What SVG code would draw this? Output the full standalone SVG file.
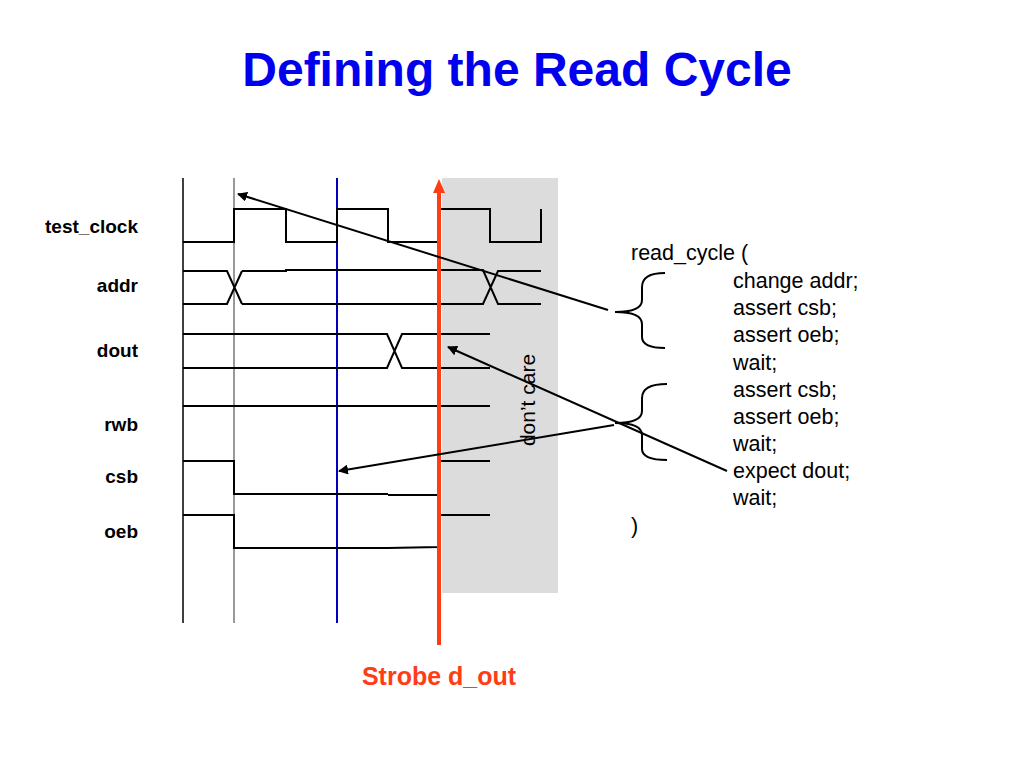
<svg xmlns="http://www.w3.org/2000/svg" width="1024" height="768" viewBox="0 0 1024 768">
<style>
text{font-family:"Liberation Sans",Arial,Helvetica,sans-serif}
.lbl{font-size:19px;font-weight:bold;fill:#000;text-anchor:end}
.code{font-size:21.5px;fill:#000}
.wave{fill:none;stroke:#000;stroke-width:2;stroke-linejoin:miter}
.conn{fill:none;stroke:#000;stroke-width:2}
.brace{fill:none;stroke:#000;stroke-width:2}
</style>
<defs>
<marker id="ah" viewBox="0 0 10 10" refX="9" refY="5" markerWidth="5" markerHeight="5" orient="auto" markerUnits="strokeWidth">
<path d="M0,0 L10,5 L0,10 Z" fill="#000"/>
</marker>
</defs>
<rect width="1024" height="768" fill="#fff"/>
<text x="517" y="86" font-size="48" font-weight="bold" fill="#0000ee" text-anchor="middle">Defining the Read Cycle</text>

<g id="dontcare">
<rect x="442" y="178" width="116" height="415" fill="#dcdcdc"/>
<text transform="translate(535,400) rotate(-90)" font-size="21" fill="#000" text-anchor="middle">don’t care</text>
</g>

<g id="gridlines">
<line x1="183" y1="178" x2="183" y2="623" stroke="#000" stroke-width="1.5"/>
<line x1="234" y1="178" x2="234" y2="623" stroke="#999" stroke-width="2"/>
<line x1="337" y1="178" x2="337" y2="623" stroke="#0000bb" stroke-width="2"/>
</g>

<g id="labels">
<text class="lbl" x="138" y="233">test_clock</text>
<text class="lbl" x="138" y="292">addr</text>
<text class="lbl" x="138" y="357">dout</text>
<text class="lbl" x="138" y="431">rwb</text>
<text class="lbl" x="138" y="483">csb</text>
<text class="lbl" x="138" y="538">oeb</text>
</g>

<g id="test_clock">
<path class="wave" d="M183,242 H234 V209 H286 V242 H337 V209 H388 V242 H439 V209 H490 V242 H541 V209"/>
</g>
<g id="addr">
<path class="wave" d="M183,271 H227 L242,304 M183,304 H227 L242,271 M242,271 H286 L286,270 H483 L498,304 H541 M242,304 H483 L498,271 H541"/>
</g>
<g id="dout">
<path class="wave" d="M183,334 H387 L402,368 H490 M183,368 H387 L402,334 H490"/>
</g>
<g id="rwb">
<path class="wave" d="M183,406 H490"/>
</g>
<g id="csb">
<path class="wave" d="M183,461 H234 V494 H388"/>
<path class="wave" stroke-width="3" d="M388,495 H439 V461 H490"/>
</g>
<g id="oeb">
<path class="wave" d="M183,515 H234 V548 H388 L439,547 V515 H490"/>
</g>

<g id="strobe">
<line x1="439" y1="190" x2="439" y2="645" stroke="#ff3c14" stroke-width="4"/>
<path d="M439,179 L445,193 L433,193 Z" fill="#ff3c14"/>
<text x="439" y="685" font-size="25" font-weight="bold" fill="#ff3c14" text-anchor="middle">Strobe d_out</text>
</g>

<g id="code">
<text class="code" x="631" y="260">read_cycle (</text>
<text class="code" x="733" y="288">change addr;</text>
<text class="code" x="733" y="315">assert csb;</text>
<text class="code" x="733" y="342">assert oeb;</text>
<text class="code" x="733" y="370">wait;</text>
<text class="code" x="733" y="397">assert csb;</text>
<text class="code" x="733" y="424">assert oeb;</text>
<text class="code" x="733" y="451">wait;</text>
<text class="code" x="733" y="478">expect dout;</text>
<text class="code" x="733" y="505">wait;</text>
<text class="code" x="631" y="533">)</text>
</g>

<g id="brace1">
<path class="brace" d="M665,273 C650,273 642,277 642,287 L642,300 C642,308 634,312 615,312 C634,312 642,316 642,324 L642,337 C642,345 650,348 665,348"/>
</g>
<g id="brace2">
<path class="brace" d="M667,384 C651,384 642,388 642,398 L642,411 C642,419 634,423 615,423 C634,423 642,427 642,435 L642,449 C642,457 651,460 667,460"/>
</g>

<g id="connectors">
<line class="conn" x1="608" y1="310" x2="238" y2="194" marker-end="url(#ah)"/>
<line class="conn" x1="727" y1="471" x2="448" y2="347" marker-end="url(#ah)"/>
<line class="conn" x1="614" y1="425" x2="339" y2="471" marker-end="url(#ah)"/>
</g>
</svg>
